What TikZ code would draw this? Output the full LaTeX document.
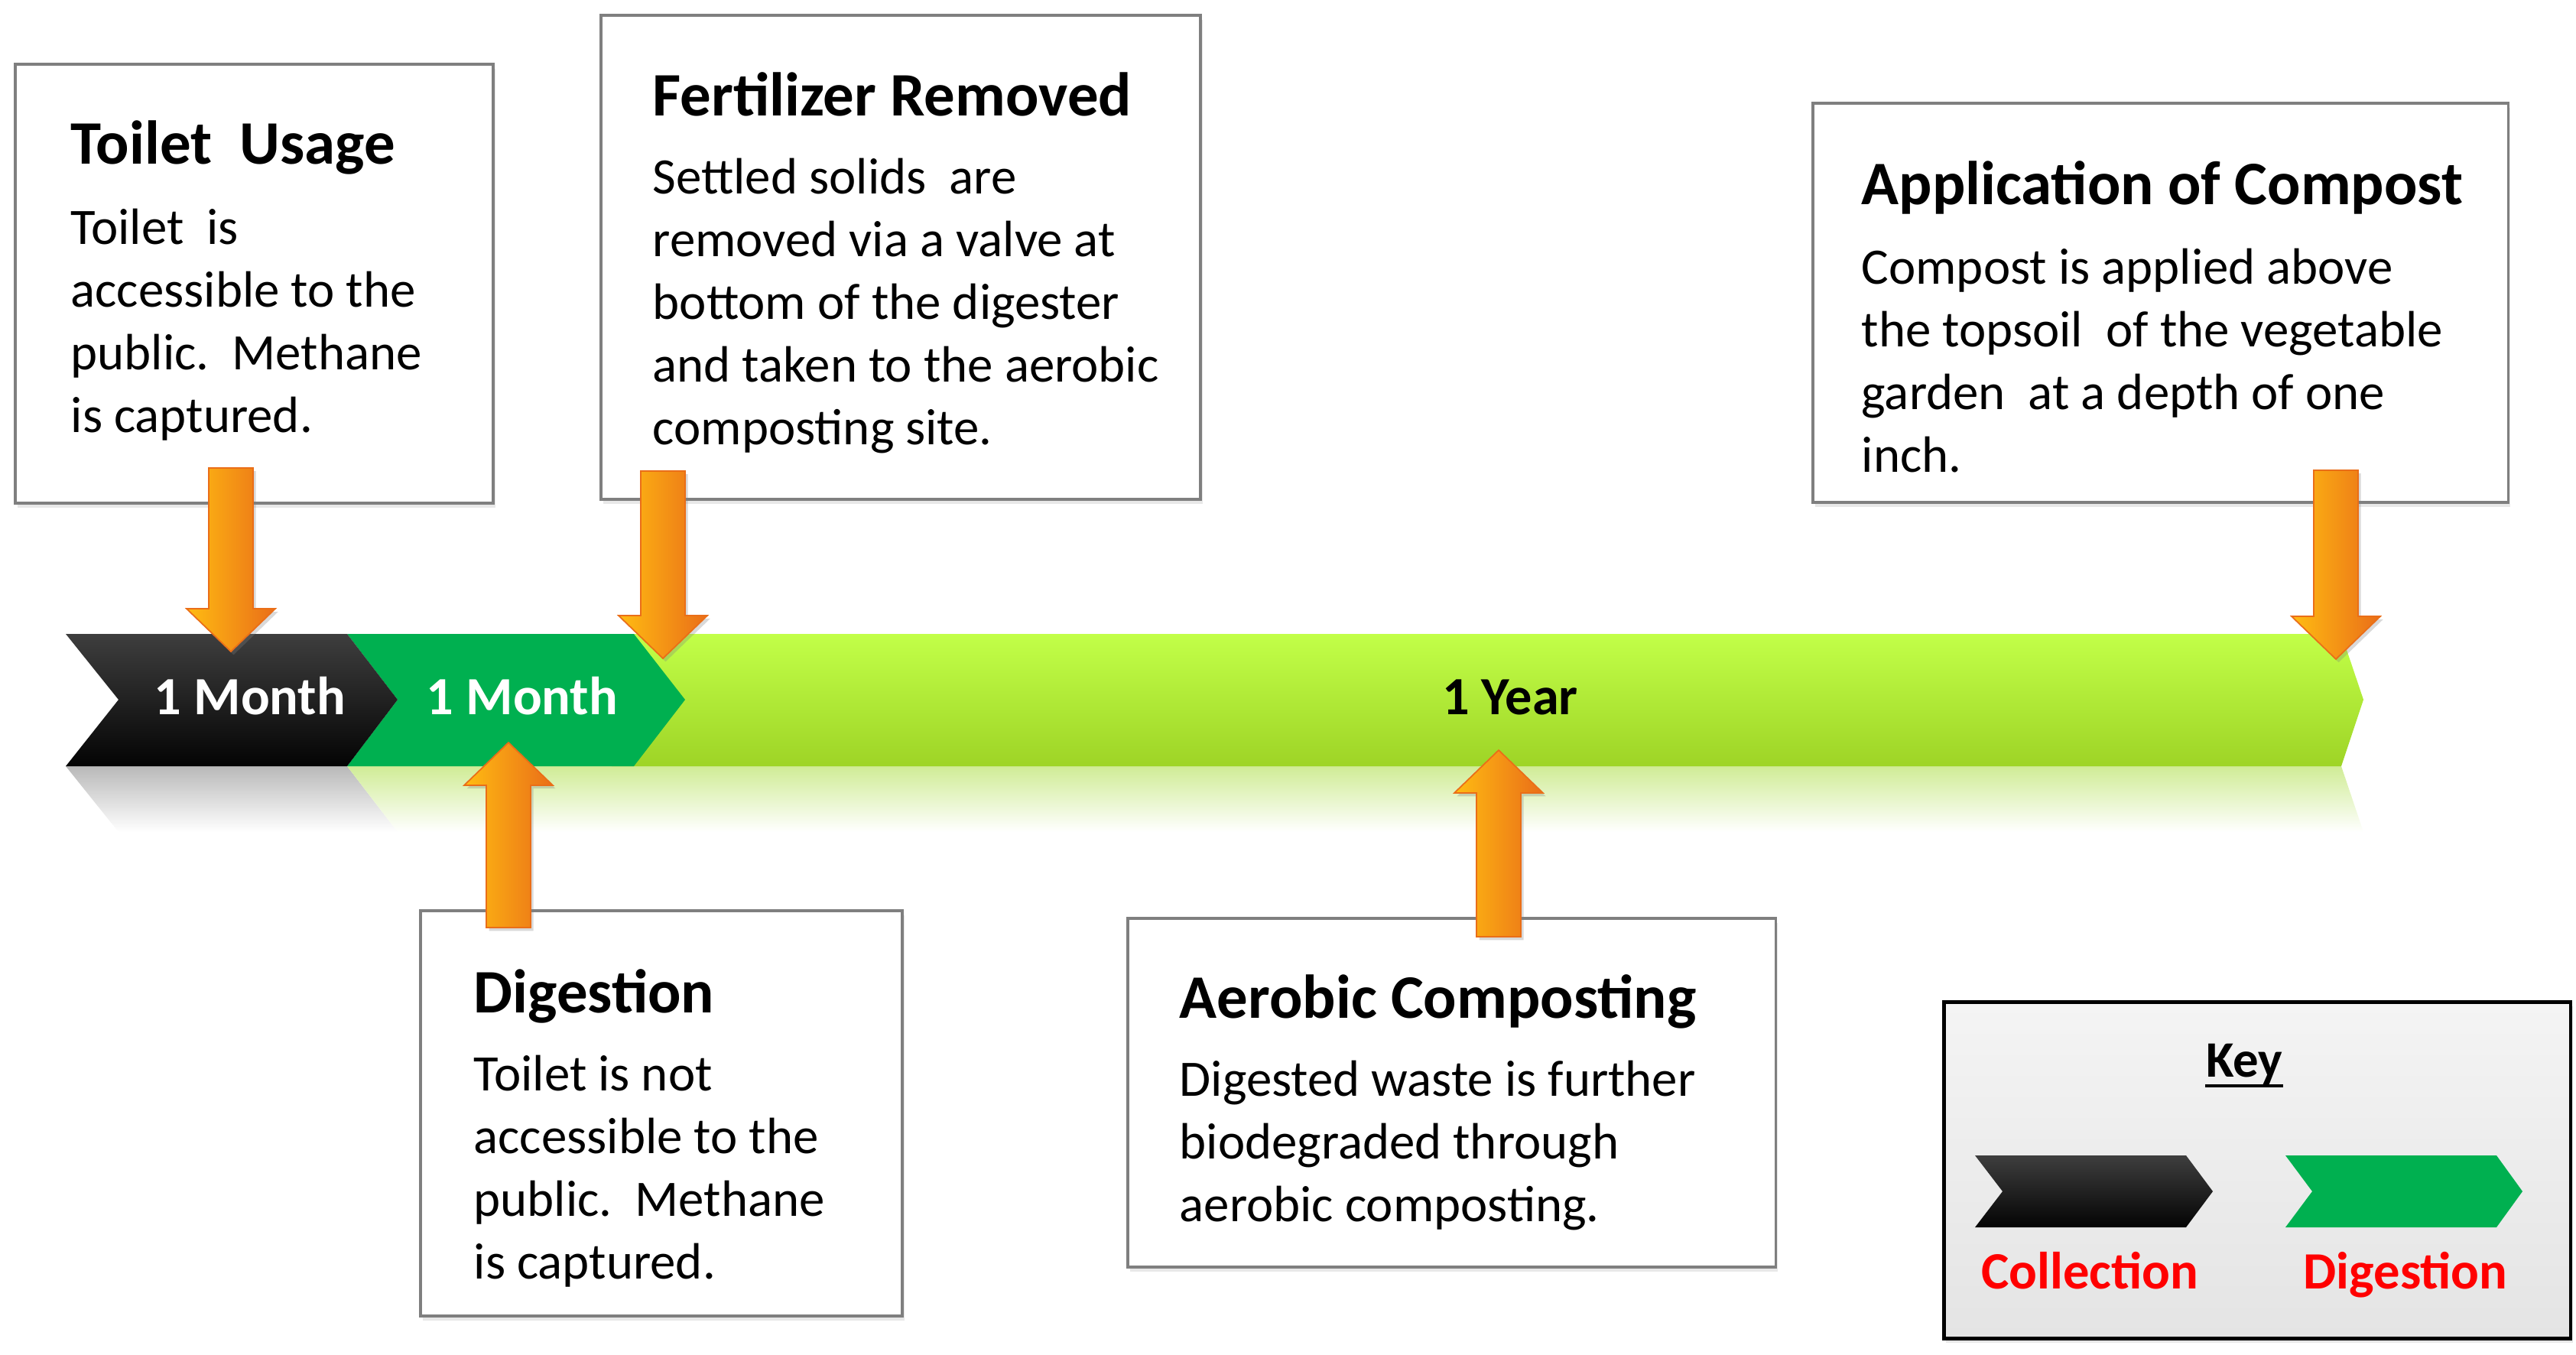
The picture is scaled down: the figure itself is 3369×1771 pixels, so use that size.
\documentclass[tikz,border=0pt]{standalone}
\usepackage{fontspec}
\setmainfont{Carlito}
\usetikzlibrary{calc,shadows,positioning}

\definecolor{boxgray}{RGB}{127,127,127}
\definecolor{digestgreen}{RGB}{0,176,80}
\definecolor{limetop}{RGB}{194,255,72}
\definecolor{limebot}{RGB}{158,212,38}
\definecolor{limeshine}{RGB}{208,236,150}
\definecolor{collecttop}{RGB}{62,62,62}
\definecolor{collectbot}{RGB}{4,4,4}
\definecolor{orangelight}{RGB}{255,188,18}
\definecolor{orangedark}{RGB}{234,110,24}
\definecolor{keytop}{RGB}{244,244,244}
\definecolor{keybot}{RGB}{228,228,228}
\definecolor{keyred}{RGB}{255,0,0}

% block arrows, #1 tail, #2 tip
\newcommand\orangedown[2]{%
\shade[orangearrow] ($(#1)+(-29,0)$) -- ($(#1)+(29,0)$) -- ($(#2)+(29,-56)$) -- ($(#2)+(58,-56)$)
  -- (#2) -- ($(#2)+(-58,-56)$) -- ($(#2)+(-29,-56)$) -- cycle;}
\newcommand\orangeup[2]{%
\shade[orangearrow] ($(#1)+(-29,0)$) -- ($(#1)+(29,0)$) -- ($(#2)+(29,56)$) -- ($(#2)+(58,56)$)
  -- (#2) -- ($(#2)+(-58,56)$) -- ($(#2)+(-29,56)$) -- cycle;}

\begin{document}
\begin{tikzpicture}
[x=0.01cm, y=-0.01cm,
 infobox/.style = {draw=boxgray, line width=1.1pt, fill=white, inner sep=0pt, anchor=north west,
   drop shadow={opacity=.18, shadow xshift=.8pt, shadow yshift=-1.6pt}},
 boxtitle/.style = {anchor=base west, inner sep=0pt, font=\fontsize{23}{28}\selectfont\bfseries},
 boxtext/.style = {anchor=base west, inner sep=0pt, align=left, font=\fontsize{19}{23.3}\selectfont},
 bandlabel/.style = {anchor=base, inner sep=0pt, font=\fontsize{20}{24}\selectfont\bfseries},
 keylabel/.style = {anchor=base, inner sep=0pt, text=keyred, font=\fontsize{19.5}{24}\selectfont\bfseries},
 orangearrow/.style = {left color=orangelight, right color=orangedark, draw=orangedark, line width=.5pt,
   drop shadow={opacity=.3, shadow xshift=1pt, shadow yshift=-1.2pt}},
]
\useasboundingbox (0,0) rectangle (3369,1771);

% time line
\shade[top color=gray!55, bottom color=white] (86,1002) -- (454,1002) -- (520,1088) -- (155,1088) -- cycle;
\shade[top color=limeshine, bottom color=white] (454,1002) -- (3062,1002) -- (3091,1088) -- (520,1088) -- cycle;
\shade[top color=limetop, bottom color=limebot] (800,829) -- (3062,829) -- (3091,915) -- (3062,1002) -- (800,1002) -- cycle;
\fill[digestgreen] (454,829) -- (829,829) -- (896,915) -- (829,1002) -- (454,1002) -- (520,915) -- cycle;
\shade[top color=collecttop, bottom color=collectbot] (86,829) -- (454,829) -- (520,915) -- (454,1002) -- (86,1002) -- (155,915) -- cycle;

\node[bandlabel, text=white] (collectlbl) at (327,934) {1 Month};
\node[bandlabel, text=white] (digestlbl) at (683,934) {1 Month};
\node[bandlabel] (yearlbl) at (1975,934) {1 Year};

% boxes (body text sits on the baseline of its last line)
\node[infobox, minimum width=6.25cm, minimum height=5.74cm] (usage) at (18,82) {};
\node[boxtitle] at (92,214) {Toilet\ \ Usage};
\node[boxtext] at (92,565) {Toilet\ \ is\\accessible to the\\public.\ \ Methane\\is captured.};

\node[infobox, minimum width=7.84cm, minimum height=6.33cm] (removed) at (784,18) {};
\node[boxtitle] at (853,151) {Fertilizer Removed};
\node[boxtext] at (853,581) {Settled solids\ \ are\\removed via a valve at\\bottom of the digester\\and taken to the aerobic\\composting site.};

\node[infobox, minimum width=9.09cm, minimum height=5.22cm] (apply) at (2369,133) {};
\node[boxtitle] at (2434,267) {Application of Compost};
\node[boxtext] at (2434,617) {Compost is applied above\\the topsoil\ \ of the vegetable\\garden\ \ at a depth of one\\inch.};

\node[infobox, minimum width=6.30cm, minimum height=5.30cm] (digest) at (548,1189) {};
\node[boxtitle] at (619,1324) {Digestion};
\node[boxtext] at (619,1672) {Toilet is not\\accessible to the\\public.\ \ Methane\\is captured.};

\node[infobox, minimum width=8.47cm, minimum height=4.56cm] (aerobic) at (1473,1199) {};
\node[boxtitle] at (1542,1331) {Aerobic Composting};
\node[boxtext] at (1542,1597) {Digested waste is further\\biodegraded through\\aerobic composting.};

% arrows
\coordinate (usagetail) at (302,612);
\coordinate (usagetip) at (302,852);
\coordinate (removedtail) at (867,616);
\coordinate (removedtip) at (867,861);
\coordinate (applytail) at (3055,615);
\coordinate (applytip) at (3055,862);
\coordinate (digesttail) at (665,1213);
\coordinate (digesttip) at (665,971);
\coordinate (aerobictail) at (1960,1225);
\coordinate (aerobictip) at (1960,981);
\orangedown{usagetail}{usagetip}
\orangedown{removedtail}{removedtip}
\orangedown{applytail}{applytip}
\orangeup{digesttail}{digesttip}
\orangeup{aerobictail}{aerobictip}

% key
\node[infobox, draw=black, line width=1.4pt, top color=keytop, bottom color=keybot,
  minimum width=8.19cm, minimum height=4.40cm] (key) at (2540,1308) {};
\node[anchor=base, inner sep=0pt, font=\fontsize{19}{23}\selectfont\bfseries] (keytitle) at (2935,1408) {Key};
\draw[line width=.9pt] ($(keytitle.base west)+(0,12)$) -- ($(keytitle.base east)+(0,12)$);
\shade[top color=collecttop, bottom color=collectbot] (2583,1511) -- (2859,1511) -- (2894,1558) -- (2859,1605) -- (2583,1605) -- (2619,1558) -- cycle;
\fill[digestgreen] (2989,1511) -- (3265,1511) -- (3299,1558) -- (3265,1605) -- (2989,1605) -- (3024,1558) -- cycle;
\node[keylabel] (collectkey) at (2733,1685) {Collection};
\node[keylabel] (digestkey) at (3146,1685) {Digestion};

\end{tikzpicture}
\end{document}
